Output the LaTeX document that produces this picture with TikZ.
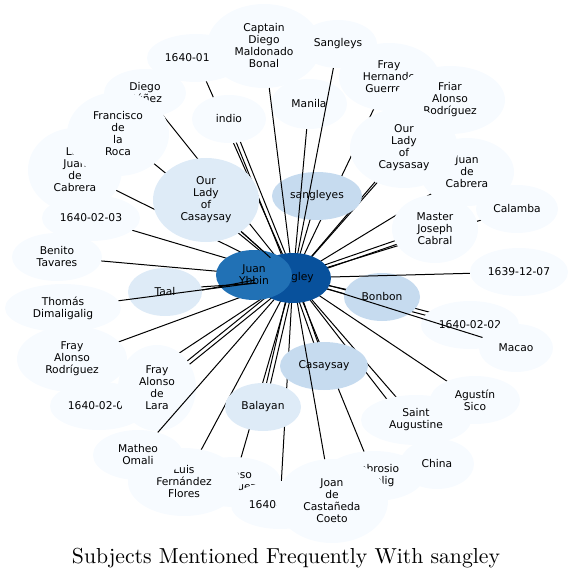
\documentclass[tikz,border=0pt]{standalone}
\usepackage{fontspec}
\newfontfamily\dv{DejaVu Sans}
\newfontfamily\lmten{lmroman10-regular.otf}
\usetikzlibrary{shapes.geometric,calc}
\pgfdeclarelayer{bg}
\pgfsetlayers{bg,main}
\definecolor{cL}{HTML}{F7FBFF}
\definecolor{cB}{HTML}{DEEBF7}
\definecolor{cC}{HTML}{C6DBEF}
\definecolor{cF}{HTML}{2171B5}
\definecolor{cG}{HTML}{08519C}
\tikzset{
  nd/.style={ellipse, inner sep=0pt, align=center, text=black,
    font=\dv\fontsize{10.7}{12}\selectfont},
  ln/.style={draw=black, line width=1pt}
}
\newcommand\bub[7]{\node[nd, fill=#6, minimum width={2*#4}, minimum height={2*#5}] (#1) at (#2,#3) {#7};}
\newcommand\uedge[2]{\draw[ln] (#1.center) -- (#2.center);}
\newcommand\udbl[2]{\draw[ln] ($(#1.center)!2pt!90:(#2.center)$) -- ($(#2.center)!2pt!-90:(#1.center)$);
  \draw[ln] ($(#1.center)!2pt!-90:(#2.center)$) -- ($(#2.center)!2pt!90:(#1.center)$);}
\newcommand\oedge[2]{\draw[ln] (#1) -- (#2);}
\begin{document}
\begin{tikzpicture}[x=1pt,y=-1pt]
\useasboundingbox (0,0) rectangle (574,580);
% nodes, bottom to top
\bub{da}{196}{58}{49}{24}{cL}{1640-01-29}
\bub{captain}{264}{46}{57}{42}{cL}{Captain\\Diego\\Maldonado\\Bonal}
\bub{sangleys}{338}{44}{39}{24}{cL}{Sangleys}
\bub{diego}{145}{93}{41}{24}{cL}{Diego\\Núñez}
\bub{ljuan}{75}{170}{47}{42}{cL}{Lic.\\Juan\\de\\Cabrera}
\bub{francisco}{118}{134}{51}{42}{cL}{Francisco\\de\\la\\Roca}
\bub{indio}{229}{119}{37}{24}{cL}{indio}
\bub{manila}{309}{104}{38}{25}{cL}{Manila}
\bub{hernando}{389}{77}{50}{34}{cL}{Fray\\Hernando\\Guerrero}
\bub{friar}{450}{100}{55}{34}{cL}{Friar\\Alonso\\Rodríguez}
\bub{jdc}{467}{172}{47}{34}{cL}{Juan\\de\\Cabrera}
\bub{caysasay}{404}{148}{54}{40}{cL}{Our\\Lady\\of\\Caysasay}
\bub{calamba}{517}{209}{41}{24}{cL}{Calamba}
\bub{mjc}{435}{229}{43}{34}{cL}{Master\\Joseph\\Cabral}
\bub{dd}{519}{272}{49}{24}{cL}{1639-12-07}
\bub{sangleyes}{317}{196}{45}{24}{cC}{sangleyes}
\bub{olcasay}{206}{200}{53}{42}{cB}{Our\\Lady\\of\\Casaysay}
\bub{db}{91}{218}{49}{23}{cL}{1640-02-03}
\bub{benito}{57}{257}{45}{24}{cL}{Benito\\Tavares}
\bub{thomas}{63}{308}{58}{24}{cL}{Thomás\\Dimaligalig}
\bub{far}{72}{359}{55}{33}{cL}{Fray\\Alonso\\Rodríguez}
\bub{dc}{99}{406}{49}{24}{cL}{1640-02-05}
\bub{fadl}{157}{388}{39}{43}{cL}{Fray\\Alonso\\de\\Lara}
\bub{alonsox}{234}{482}{47}{25}{cL}{Alonso\\Vázquez}
\bub{luis}{184}{482}{56}{34}{cL}{Luis\\Fernández\\Flores}
\bub{matheo}{138}{455}{45}{25}{cL}{Matheo\\Omali}
\bub{de}{280}{505}{49}{24}{cL}{1640-02-13}
\bub{ambrosio}{374}{476}{50}{25}{cL}{Ambrosio\\Dimalig}
\bub{joan}{332}{501}{56}{42}{cL}{Joan\\de\\Castañeda\\Coeto}
\bub{china}{437}{464}{37}{25}{cL}{China}
\bub{staug}{416}{420}{55}{25}{cL}{Saint\\Augustine}
\bub{agustin}{475}{400}{45}{24}{cL}{Agustín\\Sico}
\bub{balayan}{263}{407}{38}{24}{cB}{Balayan}
\bub{casaysay}{324}{366}{44}{24}{cC}{Casaysay}
\bub{bonbon}{382}{297}{38}{24}{cC}{Bonbon}
\bub{df}{470}{325}{49}{24}{cL}{1640-02-02}
\bub{macao}{516}{348}{37}{24}{cL}{Macao}
\bub{taal}{165}{292}{37}{24}{cB}{Taal}
\bub{sangley}{293}{278}{38}{25}{cG}{sangley}
\bub{ybbin}{254}{275}{38}{25}{cF}{Juan\\Ybbin}
% edges hidden under the nodes
\begin{pgfonlayer}{bg}
\uedge{sangley}{da}
\uedge{sangley}{diego}
\uedge{sangley}{francisco}
\uedge{sangley}{ljuan}
\udbl{sangley}{indio}
\uedge{sangley}{hernando}
\uedge{sangley}{friar}
\uedge{sangley}{jdc}
\uedge{sangley}{caysasay}
\uedge{sangley}{calamba}
\udbl{sangley}{mjc}
\uedge{sangley}{olcasay}
\uedge{sangley}{db}
\uedge{sangley}{benito}
\uedge{sangley}{far}
\uedge{sangley}{dc}
\udbl{sangley}{fadl}
\uedge{sangley}{alonsox}
\uedge{sangley}{luis}
\uedge{sangley}{de}
\uedge{sangley}{ambrosio}
\uedge{sangley}{china}
\uedge{sangley}{staug}
\uedge{sangley}{agustin}
\udbl{sangley}{balayan}
\udbl{sangley}{casaysay}
\uedge{sangley}{bonbon}
\udbl{sangley}{df}
\uedge{sangley}{sangleyes}
\uedge{sangley}{ybbin}
\end{pgfonlayer}
% edges drawn over the nodes
\oedge{sangley}{captain}
\oedge{sangley}{sangleys}
\oedge{sangley}{manila}
\oedge{sangley}{dd}
\oedge{olcasay}{sangley}
\draw[ln] (taal.3) -- (sangley.183);
\draw[ln] (taal.8) -- (sangley.188);
\oedge{thomas}{sangley}
\oedge{sangley}{macao}
\oedge{sangley}{joan}
\oedge{matheo}{sangley}
% title
\node[anchor=base, font=\lmten\fontsize{21.7}{26}\selectfont] (title) at (286,563.5) {Subjects Mentioned Frequently With sangley};
\end{tikzpicture}
\end{document}
